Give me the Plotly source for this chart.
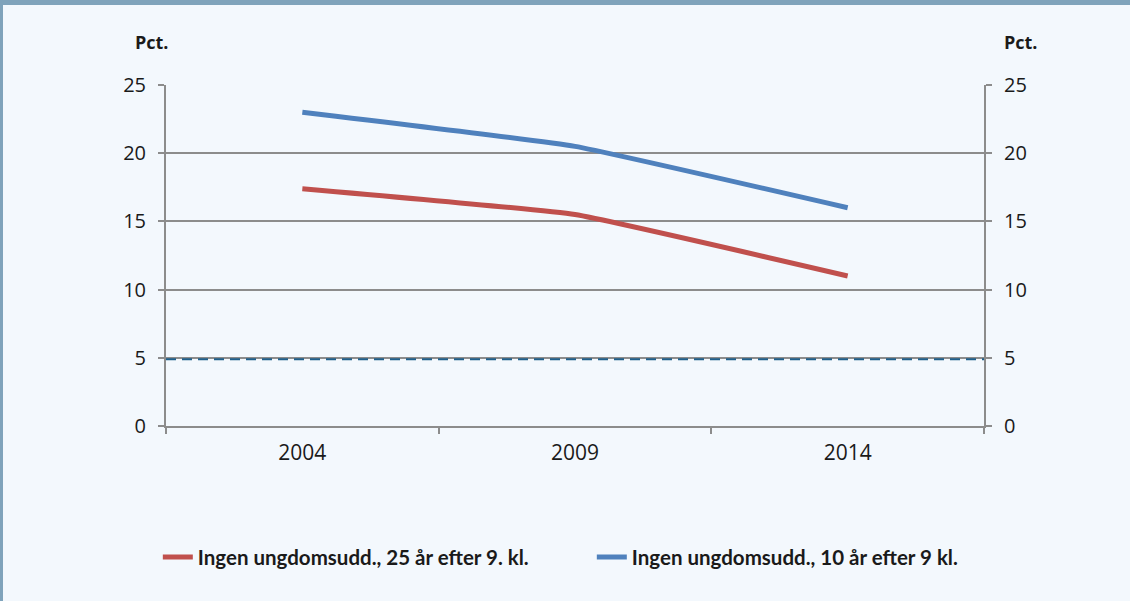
import plotly.graph_objects as go

years = ["2004", "2009", "2014"]
red_name = "Ingen ungdomsudd., 25 år efter 9. kl."
blue_name = "Ingen ungdomsudd., 10 år efter 9 kl."
red_vals = [17.4, 15.5, 11.0]
blue_vals = [23.0, 20.5, 16.0]
target_val = 4.9
y_ticks = [0, 5, 10, 15, 20, 25]

RED = "#c0504d"
BLUE = "#4f81bd"
DASH = "#1f5f8b"
GRID = "#8c8c8c"
BG = "#f3f8fd"
FRAME = "#7fa3bb"
TXT = "#1a1a1a"

fig = go.Figure()
fig.add_trace(go.Scatter(
    x=years, y=red_vals, name=red_name, mode="lines",
    line=dict(color=RED, width=5, shape="spline", smoothing=0.3)))
fig.add_trace(go.Scatter(
    x=years, y=blue_vals, name=blue_name, mode="lines",
    line=dict(color=BLUE, width=5, shape="spline", smoothing=0.3)))
fig.add_shape(type="line", xref="paper", yref="y", x0=0, x1=1,
              y0=target_val, y1=target_val,
              line=dict(color=DASH, width=2, dash="10px,6px"))
fig.add_trace(go.Scatter(x=years, y=blue_vals, yaxis="y2", mode="lines",
                         line=dict(width=0), showlegend=False, hoverinfo="skip",
                         opacity=0))

axis_font = dict(family="Open Sans", size=20, color=TXT)
x_font = dict(family="Open Sans", size=21, color=TXT)
fig.update_layout(
    width=1130, height=601,
    paper_bgcolor=BG, plot_bgcolor=BG,
    margin=dict(l=166, r=146, t=85, b=175),
    font=dict(family="Open Sans", color=TXT),
    xaxis=dict(type="category", tickson="boundaries", ticks="outside",
               ticklen=6, tickcolor=GRID, tickwidth=2,
               showline=True, linecolor=GRID, linewidth=2,
               showgrid=False, tickfont=x_font, range=[-0.5, 2.5],
               ticklabelstandoff=7),
    yaxis=dict(range=[0, 25], tickvals=y_ticks, ticks="outside",
               ticklen=6, tickcolor=GRID, tickwidth=2,
               showline=True, linecolor=GRID, linewidth=2,
               gridcolor=GRID, gridwidth=2, zeroline=False,
               tickfont=axis_font, ticklabelstandoff=8),
    yaxis2=dict(range=[0, 25], tickvals=y_ticks, overlaying="y", side="right",
                ticks="outside", ticklen=6, tickcolor=GRID, tickwidth=2,
                showline=True, linecolor=GRID, linewidth=2,
                showgrid=False, zeroline=False, tickfont=axis_font,
                ticklabelstandoff=8),
    legend=dict(orientation="h", x=-0.01, y=-0.385, xanchor="left", yanchor="middle",
                font=dict(family="Lato", size=20.5, color=TXT, weight="bold"),
                bgcolor="rgba(0,0,0,0)", entrywidth=389, entrywidthmode="pixels",
                itemwidth=30),
    showlegend=True,
)

fig.add_shape(type="rect", xref="paper", yref="paper", x0=-166/818, x1=(1130-166)/818,
              y0=1 + 80/341, y1=1 + 90/341, fillcolor=FRAME, line=dict(width=0), layer="above")
fig.add_shape(type="rect", xref="paper", yref="paper", x0=-166/818, x1=-163/818,
              y0=-180/341, y1=1 + 90/341, fillcolor=FRAME, line=dict(width=0), layer="above")

fig.add_annotation(text="<b>Pct.</b>", xref="paper", yref="paper", x=-14/818, y=1 + 43/341,
                   showarrow=False, xanchor="center", yanchor="middle",
                   font=dict(family="Open Sans", size=18, color=TXT))
fig.add_annotation(text="<b>Pct.</b>", xref="paper", yref="paper", x=1 + 37/818, y=1 + 43/341,
                   showarrow=False, xanchor="center", yanchor="middle",
                   font=dict(family="Open Sans", size=18, color=TXT))

fig.write_html("out.html", config={"displayModeBar": False},
               post_script="document.body.style.margin='0';")
